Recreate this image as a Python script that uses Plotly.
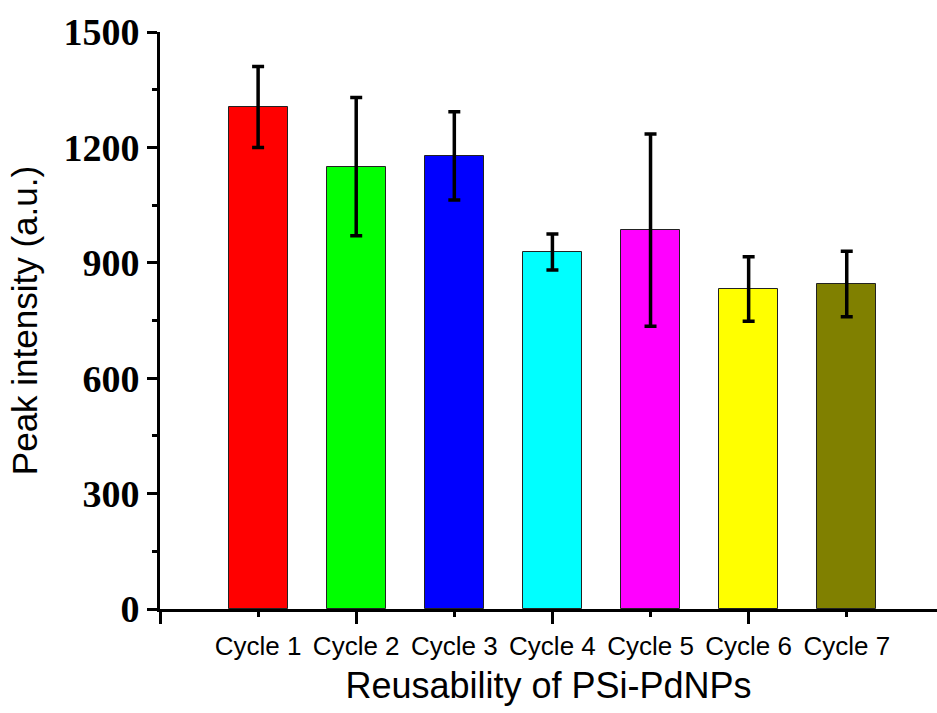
import plotly.graph_objects as go

categories = ["Cycle 1", "Cycle 2", "Cycle 3", "Cycle 4", "Cycle 5", "Cycle 6", "Cycle 7"]
peak_values = [1305, 1150, 1178, 928, 985, 832, 845]
error_values = [105, 180, 115, 47, 250, 84, 85]
bar_colors = ["#FF0000", "#00FF00", "#0000FF", "#00FFFF", "#FF00FF", "#FFFF00", "#808000"]
y_tick_values = [0, 300, 600, 900, 1200, 1500]

positions = list(range(1, len(categories) + 1))

fig = go.Figure()
fig.add_trace(go.Bar(
    x=positions,
    y=peak_values,
    width=0.6,
    marker=dict(color=bar_colors, line=dict(color="#222222", width=1)),
    error_y=dict(type="data", array=error_values, visible=True,
                 color="black", thickness=3.5, width=6),
    showlegend=False,
))
# invisible trace on overlay axis for category labels
fig.add_trace(go.Scatter(x=positions, y=peak_values, xaxis="x2", mode="markers",
                         marker=dict(opacity=0), showlegend=False, hoverinfo="skip"))

fig.update_layout(
    width=937, height=713,
    margin=dict(l=160, r=0, t=32, b=104),
    plot_bgcolor="white", paper_bgcolor="white",
    bargap=0,
    xaxis=dict(
        range=[0, 7.92], showgrid=False, zeroline=False,
        showline=True, linecolor="black", linewidth=3,
        tickmode="array", tickvals=[0, 2, 4, 6], ticktext=["", "", "", ""],
        ticks="outside", ticklen=12, tickwidth=3, tickcolor="black",
        minor=dict(tickmode="array", tickvals=[1, 3, 5, 7], ticks="outside",
                   ticklen=5, tickwidth=3, tickcolor="black", showgrid=False),
        title=dict(text="Reusability of PSi-PdNPs",
                   font=dict(family="Arial, Liberation Sans", size=36, color="black"),
                   standoff=48),
    ),
    xaxis2=dict(
        overlaying="x", side="bottom", range=[0, 7.92], showgrid=False, zeroline=False,
        showline=False, tickmode="array", tickvals=positions, ticktext=categories,
        ticks="outside", ticklen=14, tickcolor="rgba(0,0,0,0)",
        tickfont=dict(family="Arial, Liberation Sans", size=26, color="black"),
    ),
    yaxis=dict(
        range=[0, 1500], showgrid=False, zeroline=False,
        showline=True, linecolor="black", linewidth=3,
        tickmode="array", tickvals=y_tick_values,
        ticks="outside", ticklen=10, tickwidth=3, tickcolor="black",
        minor=dict(tickmode="array", tickvals=[150, 450, 750, 1050, 1350], ticks="outside",
                   ticklen=5, tickwidth=3, tickcolor="black", showgrid=False),
        tickfont=dict(family="Liberation Serif, Times New Roman", size=38, color="black",
                      weight="bold"),
        title=dict(text="Peak intensity (a.u.)",
                   font=dict(family="Arial, Liberation Sans", size=35, color="black"),
                   standoff=16),
    ),
)

fig.write_html("out.html")
